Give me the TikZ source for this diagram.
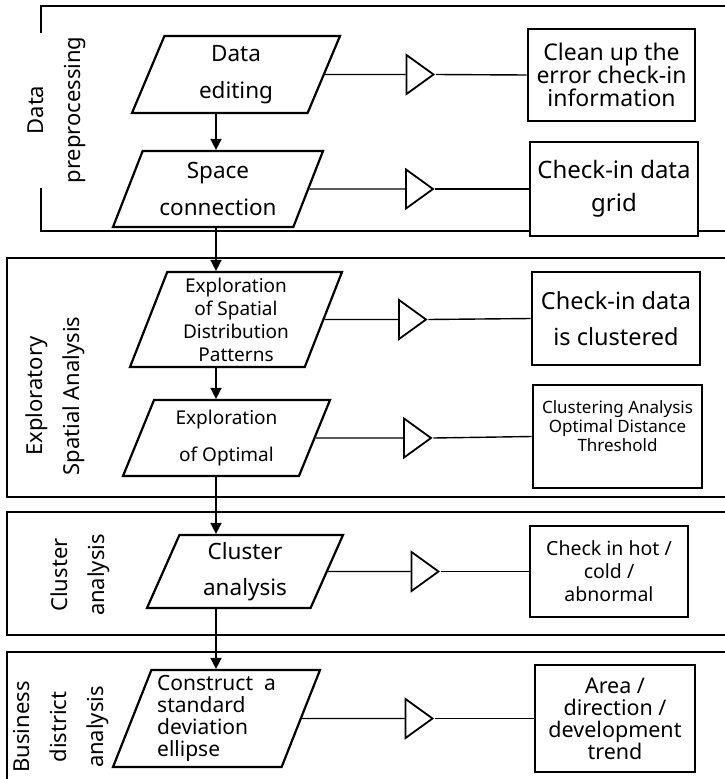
\documentclass[tikz,border=0pt]{standalone}
\usepackage{fontspec}
\setmainfont{Noto Sans}
\usepackage{tikz}
\usetikzlibrary{shapes.geometric,arrows.meta}
\tikzstyle{io} = [trapezium, trapezium left angle=61, trapezium right angle=119, trapezium stretches body, draw=black, line width=2.2pt, fill=white, inner sep=0pt, align=center]
\tikzstyle{tallio} = [io, trapezium left angle=66, trapezium right angle=114]
\tikzstyle{result} = [rectangle, draw=black, line width=2.6pt, fill=white, inner sep=0pt, align=center]
\tikzstyle{valve} = [isosceles triangle, isosceles triangle stretches, draw=black, line width=1.8pt, fill=white, inner sep=0pt, minimum width=39pt, minimum height=27pt]
\tikzstyle{stage} = [rotate=90, align=center, font=\fontsize{22}{37}\selectfont]
\tikzstyle{frame} = [line width=2.6pt]
\tikzstyle{link} = [line width=1.4pt]
\tikzstyle{arrow} = [line width=1.6pt,-{Triangle[length=11pt,width=11pt]}]

\begin{document}
\begin{tikzpicture}[x=1pt,y=-1pt]
\useasboundingbox (0,0) rectangle (725,779);

% stage frames
\draw [frame] (725,6) -- (41,6) -- (41,33);
\draw [frame] (41,188) -- (41,231) -- (725,231);
\draw [frame] (725,258) -- (7,258) -- (7,497) -- (725,497);
\draw [frame] (725,512) -- (7,512) -- (7,635) -- (725,635);
\draw [frame] (725,652) -- (7,652) -- (7,779);

% stage labels
\node (prep) [stage] at (57,110) {Data\\preprocessing};
\node (esa) [stage] at (55,396) {Exploratory\\Spatial Analysis};
\node (clus) [stage] at (80,575) {Cluster\\analysis};
\node (bda) [stage] at (61,727) {Business\\district\\analysis};

% steps
\node (edit) [io, minimum width=208pt, minimum height=77pt, font=\fontsize{22.5}{37}\selectfont] at (236,74.5) {Data\\editing};
\node (space) [io, minimum width=210pt, minimum height=76pt, font=\fontsize{22.5}{37}\selectfont] at (218,189) {Space\\connection};
\node (pattern) [tallio, minimum width=212pt, minimum height=95pt, font=\fontsize{19}{23}\selectfont] at (236,319.5) {Exploration\\of Spatial\\Distribution\\Patterns};
\node (optimal) [io, minimum width=207pt, minimum height=76pt, font=\fontsize{19}{37}\selectfont] at (226.5,438) {Exploration\\of Optimal};
\node (cluster) [io, minimum width=196pt, minimum height=73pt, font=\fontsize{22.5}{36}\selectfont] at (245,571.5) {Cluster\\analysis};
\node (ellipse) [tallio, minimum width=207pt, minimum height=97pt, align=left, font=\fontsize{21}{22}\selectfont] at (216.5,718.5) {Construct\ \ a\\standard\\deviation\\ellipse};

% check valves
\node (v1) [valve] at (416.5,74.5) {};
\node (v2) [valve] at (416,189) {};
\node (v3) [valve] at (409,319.5) {};
\node (v4) [valve] at (414,438) {};
\node (v5) [valve] at (421.5,571.5) {};
\node (v6) [valve] at (415.5,718.5) {};

% results
\node (clean) [result, minimum width=167pt, minimum height=92pt, font=\fontsize{23}{23}\selectfont] at (611.5,75) {Clean up the\\error check-in\\information};
\node (grid) [result, minimum width=168pt, minimum height=94pt, font=\fontsize{24}{33}\selectfont] at (614,189) {Check-in data\\grid};
\node (clustered) [result, minimum width=168pt, minimum height=93pt, font=\fontsize{23.5}{36}\selectfont] at (616,318.5) {Check-in data\\is clustered};
\node (threshold) [result, minimum width=169pt, minimum height=103pt, font=\fontsize{17}{19}\selectfont] at (617.5,436.5) {Clustering Analysis\\Optimal Distance\\Threshold\\[2pt]};
\node (hotcold) [result, minimum width=158pt, minimum height=91pt, font=\fontsize{19.5}{23}\selectfont] at (609,571.5) {Check in hot /\\cold /\\abnormal};
\node (trend) [result, minimum width=160pt, minimum height=107pt, font=\fontsize{21.5}{22}\selectfont] at (615,718.5) {Area /\\direction /\\development\\trend};

% flow
\coordinate (spine) at (216,0);
\draw [arrow] (spine |- edit.south) -- (spine |- space.north);
\draw [arrow] (spine |- space.south) -- (spine |- pattern.north);
\draw [arrow] (spine |- pattern.south) -- (spine |- optimal.north);
\draw [arrow] (spine |- optimal.south) -- (spine |- cluster.north);
\draw [arrow] (spine |- cluster.south) -- (spine |- ellipse.north);

\draw [link] (edit.east) -- (v1.west);
\draw [link] (v1.east) -- (clean.west);
\draw [link] (space.east) -- (v2.west);
\draw [link] (v2.east) -- (grid.west);
\draw [link] (pattern.east) -- (v3.west);
\draw [link] (v3.east) -- (clustered.west);
\draw [link] (optimal.east) -- (v4.west);
\draw [link] (v4.east) -- (threshold.west);
\draw [link] (cluster.east) -- (v5.west);
\draw [link] (v5.east) -- (hotcold.west);
\draw [link] (ellipse.east) -- (v6.west);
\draw [link] (v6.east) -- (trend.west);

\end{tikzpicture}
\end{document}
